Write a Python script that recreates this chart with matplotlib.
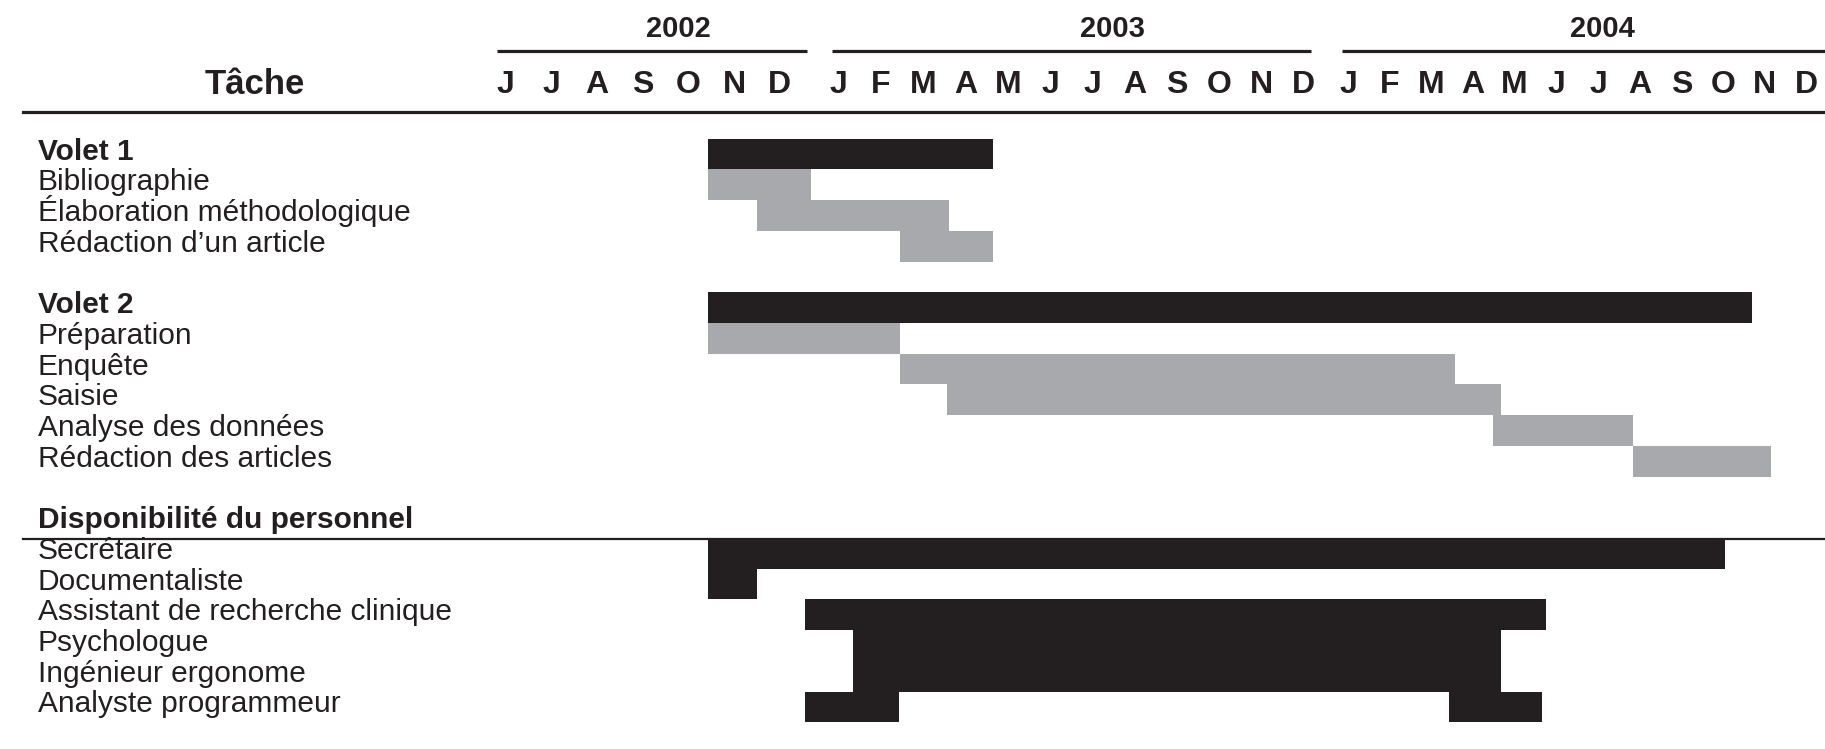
import matplotlib
matplotlib.use('Agg')
import matplotlib.pyplot as plt
from matplotlib.transforms import blended_transform_factory

plt.rcParams['font.family'] = ['Liberation Sans', 'DejaVu Sans']

# months counted from 1 June 2002 (0) ; one letter per month, grouped by year
years = ['2002', '2003', '2004']
month_letters = [['J', 'J', 'A', 'S', 'O', 'N', 'D'],
                 ['J', 'F', 'M', 'A', 'M', 'J', 'J', 'A', 'S', 'O', 'N', 'D'],
                 ['J', 'F', 'M', 'A', 'M', 'J', 'J', 'A', 'S', 'O', 'N', 'D']]
year_label_pos = [4.04, 14.14, 25.58]
year_spans = [(-0.2, 7.03), (7.61, 18.77), (19.5, 31.5)]

# task rows
labels = ['Volet 1', 'Bibliographie', 'Élaboration méthodologique', "Rédaction d’un article",
          '',
          'Volet 2', 'Préparation', 'Enquête', 'Saisie', 'Analyse des données',
          'Rédaction des articles',
          '',
          'Disponibilité du personnel',
          'Secrétaire', 'Documentaliste', 'Assistant de recherche clinique',
          'Psychologue', 'Ingénieur ergonome', 'Analyste programmeur']
bold_rows = [0, 5, 12]

# bars: row, start month, end month (fractional)
black_rows = [0, 5, 13, 14, 15, 16, 17, 18, 18]
black_start = [4.72, 4.72, 4.72, 4.72, 6.98, 8.10, 8.10, 6.98, 22.00]
black_end = [11.36, 29.06, 28.43, 5.86, 24.26, 23.20, 23.20, 9.17, 24.16]

grey_rows = [1, 2, 3, 6, 7, 8, 9, 10]
grey_start = [4.72, 5.86, 9.20, 4.72, 9.20, 10.29, 23.02, 26.28]
grey_end = [7.12, 10.34, 11.36, 9.20, 22.13, 23.20, 26.28, 29.50]

BLACK = '#231f20'
GREY = '#a7a9ac'

# pixel layout: x = 505.5 + 42.9 * month ; y = 154 + 30.72 * row
x0, px_month = 505.5, 42.9
y0, px_row = 154, 30.72
W, H = 1825, 749
# first / last letter centre of each year (in months), letters spread evenly between
letter_spans = [(0.0, 6.39), (7.77, 18.61), (19.64, 30.32)]

fig = plt.figure(figsize=(W / 100, H / 100), dpi=100)
ax = fig.add_axes([0, 0, 1, 1])
ax.set_xlim(-x0 / px_month, (W - x0) / px_month)
ax.set_ylim((H - y0) / px_row, -y0 / px_row)
ax.axis('off')

ax.barh(black_rows, [e - s for s, e in zip(black_start, black_end)], left=black_start,
        height=1.0, color=BLACK, linewidth=0, zorder=3)
ax.barh(grey_rows, [e - s for s, e in zip(grey_start, grey_end)], left=grey_start,
        height=1.0, color=GREY, linewidth=0, zorder=3)

# header
for letters, (a, b) in zip(month_letters, letter_spans):
    step = (b - a) / (len(letters) - 1)
    for k, letter in enumerate(letters):
        ax.text(a + k * step, -1.97, letter, ha='center', va='baseline',
                fontsize=23, fontweight='bold', color=BLACK)
for yr, pos, (a, b) in zip(years, year_label_pos, year_spans):
    ax.text(pos, -3.81, yr, ha='center', va='baseline',
            fontsize=21, fontweight='bold', color=BLACK)
    ax.plot([a, b], [-3.35, -3.35], color=BLACK, lw=2.3, solid_capstyle='butt')
ax.text(-5.84, -1.94, 'Tâche', ha='center', va='baseline',
        fontsize=25, fontweight='bold', color=BLACK)
ax.axhline(-1.37, xmin=23 / W, xmax=1, color=BLACK, lw=2.3)
ax.axhline(12.53, xmin=23 / W, xmax=1, color=BLACK, lw=1.6, zorder=1)

# row labels
trans = blended_transform_factory(ax.transAxes, ax.transData)
for i, lab in enumerate(labels):
    if not lab:
        continue
    ax.text(38 / W, i + 0.18, lab, transform=trans, ha='left', va='baseline',
            fontsize=21.5, color=BLACK,
            fontweight='bold' if i in bold_rows else 'normal')

fig.savefig('out.png', dpi=100)
